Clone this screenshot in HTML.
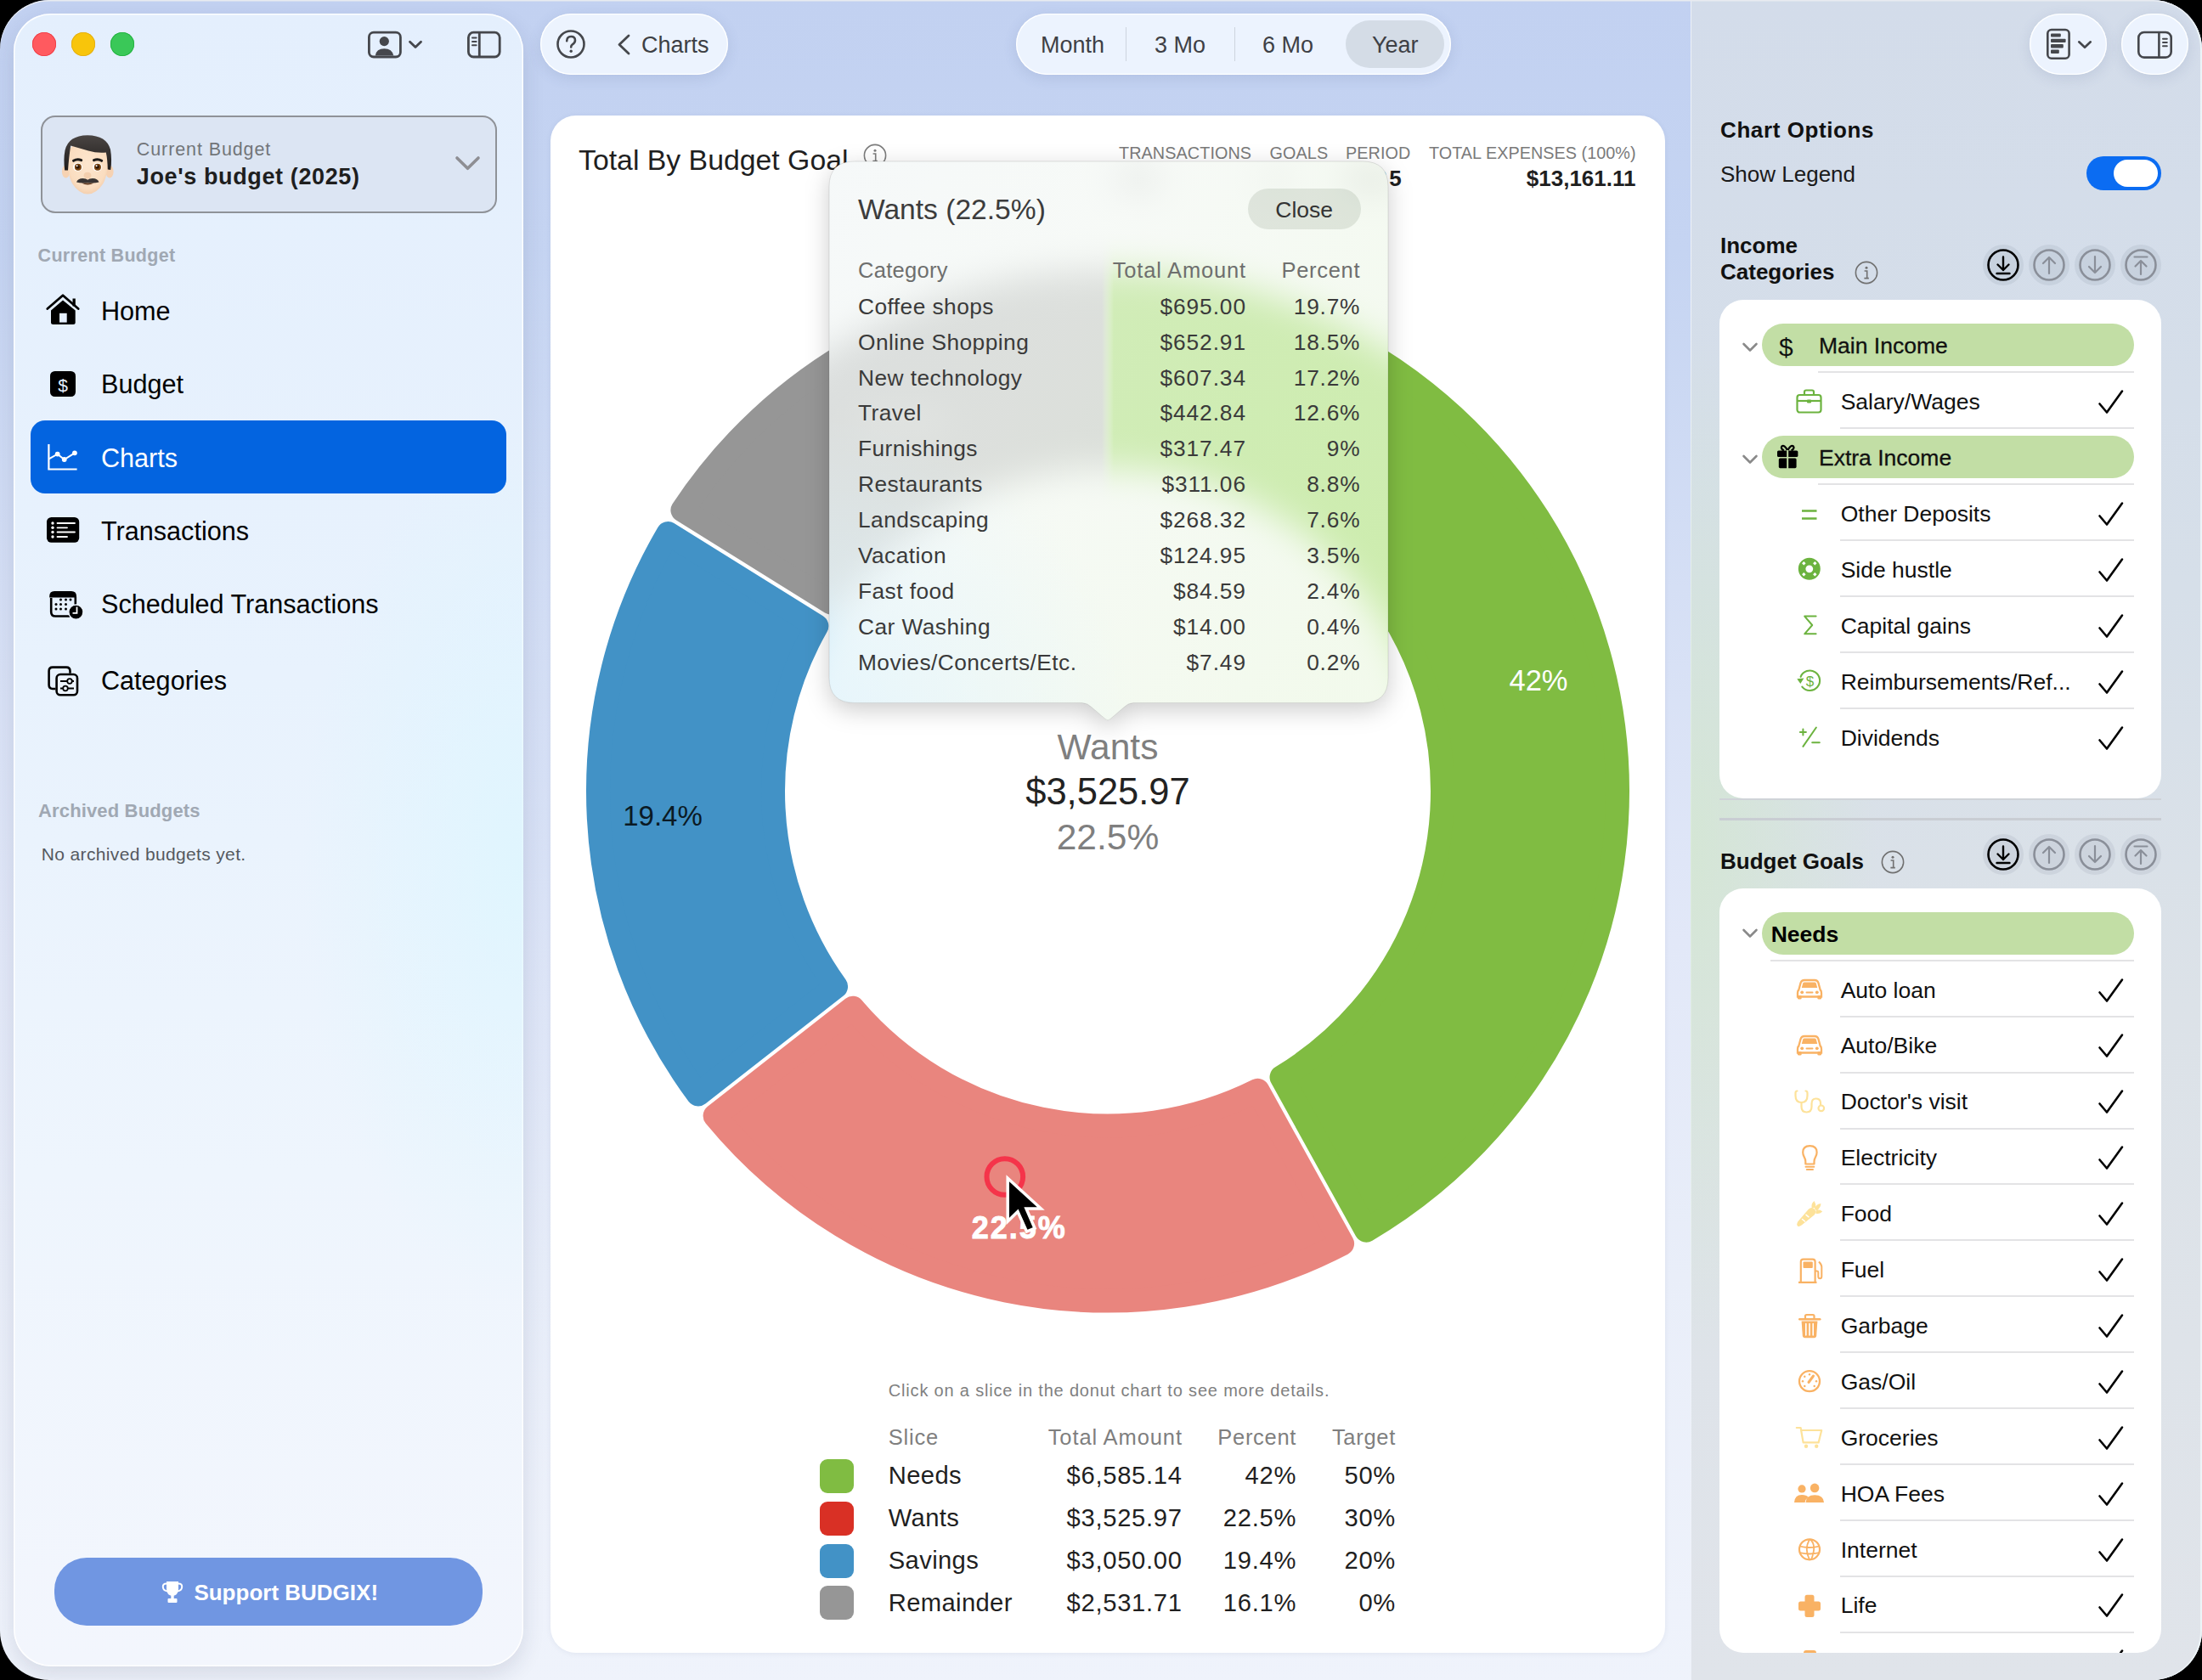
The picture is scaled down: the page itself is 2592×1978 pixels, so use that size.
<!DOCTYPE html>
<html><head><meta charset="utf-8"><style>
html,body{margin:0;padding:0;}
body{width:2592px;height:1978px;overflow:hidden;background:#000;position:relative;font-family:"Liberation Sans", sans-serif;}
.t{position:absolute;line-height:1;white-space:nowrap;}
svg{position:absolute;overflow:visible;}
</style></head><body>

<div id="win" style="position:absolute;left:0px;top:0px;width:2592px;height:1978px;border-radius:58px;overflow:hidden;background:radial-gradient(ellipse 420px 760px at 632px 1000px, rgba(170,195,235,0.14), rgba(170,195,235,0)),linear-gradient(180deg,#C2D1F1 0%,#C5D4F2 15%,#D5DFF5 35%,#E2E8F8 56%,#E9EEF9 76%,#EEF2FB 96%,#EFF3FB 100%);">
<div style="position:absolute;left:1990px;top:0;width:602px;height:1978px;background:linear-gradient(180deg,#D3DCEA 0%,#D6DFE9 35%,#DCE2E8 60%,#E0E4EA 100%);border-left:1.5px solid #EDF1F8;"></div>
<div style="position:absolute;left:1990px;top:0;width:602px;height:1978px;background:radial-gradient(ellipse 220px 600px at 0px 1000px, rgba(210,232,205,0.7), rgba(210,232,205,0));"></div>
<div style="position:absolute;left:0;top:0;right:0;bottom:0;border-radius:58px;box-shadow:inset 0 1.6px 0 rgba(232,235,240,1), inset -2px 0 0 rgba(236,244,248,0.95);"></div>
</div>
<div style="position:absolute;left:16px;top:16px;width:600px;height:1946px;border-radius:44px;background:linear-gradient(180deg,#E4EFFD 0%,#E8F2FD 40%,#EEF5FD 70%,#F3F6FD 100%);box-shadow:inset 0 0 0 1.5px rgba(255,255,255,0.9), 0 10px 26px rgba(30,40,70,0.12);"></div>
<div style="position:absolute;left:16px;top:16px;width:600px;height:1946px;border-radius:44px;background:radial-gradient(ellipse 260px 520px at 600px 1000px, rgba(220,246,255,0.75), rgba(220,246,255,0));"></div>
<div style="position:absolute;left:38px;top:38px;width:28px;height:28px;border-radius:50%;background:#FF5A5F;box-shadow:inset 0 0 0 0.8px #EE3A43;"></div>
<div style="position:absolute;left:84px;top:38px;width:28px;height:28px;border-radius:50%;background:#F8C50B;box-shadow:inset 0 0 0 0.8px #E2AC10;"></div>
<div style="position:absolute;left:130px;top:38px;width:28px;height:28px;border-radius:50%;background:#3AC858;box-shadow:inset 0 0 0 0.8px #1FAF3C;"></div>
<svg style="left:430px;top:34px;" width="70" height="36" viewBox="0 0 70 36"><rect x="4.4" y="4.2" width="37" height="28.8" rx="5.5" fill="none" stroke="#45474C" stroke-width="2.8"/>
<circle cx="22.3" cy="14.6" r="5.6" fill="#45474C"/>
<path d="M11.7 31.5 Q13 23.2 22.3 23.2 Q31.6 23.2 33.3 31.5 Z" fill="#45474C"/>
<path d="M52.5 15.2 L59 21.6 L65.5 15.2" fill="none" stroke="#45474C" stroke-width="2.8" stroke-linecap="round" stroke-linejoin="round"/></svg>
<svg style="left:548px;top:34px;" width="44" height="36" viewBox="0 0 44 36"><rect x="3.4" y="4.2" width="36.8" height="28.8" rx="6" fill="none" stroke="#45474C" stroke-width="2.8"/>
<line x1="16.3" y1="4.2" x2="16.3" y2="33" stroke="#45474C" stroke-width="2.8"/>
<path d="M8 10.4h4.6M8 14.9h4.6M8 19.3h4.6" stroke="#45474C" stroke-width="2" stroke-linecap="round"/></svg>
<div style="position:absolute;left:47.5px;top:135.5px;width:537px;height:115px;box-sizing:border-box;border:2px solid #8F9298;border-radius:17px;background:#DCE5F3;"></div>
<svg style="left:66px;top:150px;" width="74" height="86" viewBox="0 0 74 86"><defs><radialGradient id="skin" cx="0.5" cy="0.45" r="0.6"><stop offset="0" stop-color="#FDE6CE"/><stop offset="0.75" stop-color="#FADDC0"/><stop offset="1" stop-color="#F1C9A6"/></radialGradient>
<linearGradient id="hair" x1="0" y1="0" x2="0" y2="1"><stop offset="0" stop-color="#4A4543"/><stop offset="1" stop-color="#1F1C1B"/></linearGradient></defs>
<ellipse cx="11.5" cy="52" rx="4.6" ry="7.5" fill="#F6D2B2"/><ellipse cx="63" cy="52" rx="4.6" ry="7.5" fill="#F6D2B2"/>
<path d="M13.5 30 Q12.5 54 19 66 Q27 78.5 37.2 78.5 Q47.5 78.5 55.5 66 Q62 54 61 30 Q52 14 37 14 Q22 14 13.5 30Z" fill="url(#skin)"/>
<path d="M10.2 50.5 Q8.5 38 10.5 27 Q14.5 9.5 37 9.2 Q59.5 9.5 64 26 Q66 38 64.2 50 L60.8 49.5 Q60.5 37 58.8 29.5 Q48 30.5 38 27.5 Q26 24 17.2 21.5 Q15.2 34 14 50.5Z" fill="url(#hair)"/>
<path d="M20.5 39.3 Q25 36.4 29.7 38.6 M44.5 38.6 Q49.2 36.4 53.7 39.3" fill="none" stroke="#1C1A19" stroke-width="3" stroke-linecap="round"/>
<ellipse cx="25.6" cy="46.8" rx="5.6" ry="5" fill="#fff"/><circle cx="25.9" cy="46.8" r="4" fill="#7A4410"/><circle cx="25.6" cy="46.4" r="2.2" fill="#2A1406"/><circle cx="24.6" cy="45.2" r="1" fill="#fff"/>
<ellipse cx="48.6" cy="46.8" rx="5.6" ry="5" fill="#fff"/><circle cx="48.9" cy="46.8" r="4" fill="#7A4410"/><circle cx="48.6" cy="46.4" r="2.2" fill="#2A1406"/><circle cx="47.6" cy="45.2" r="1" fill="#fff"/>
<ellipse cx="37" cy="56.5" rx="4.4" ry="3.8" fill="#F3CFAE"/>
<path d="M30 65.5 Q37.2 69.5 44.5 65.5Z" fill="#5C3318"/>
<path d="M24 64.5 Q25.5 60 31.5 60 Q35.5 60 37.2 61.8 Q39 60 43 60 Q49 60 50.5 64.5 Q45.5 65.8 37.2 65.2 Q29 65.8 24 64.5Z" fill="#3A3533"/></svg>
<div class="t" style="top:165.80px;font-size:21.5px;font-weight:400;color:#727579;letter-spacing:0.9px;left:160.8px;">Current Budget</div>
<div class="t" style="top:194.94px;font-size:27px;font-weight:700;color:#1E1E1E;letter-spacing:0.62px;left:160.8px;">Joe's budget (2025)</div>
<svg style="left:534px;top:182px;" width="34" height="22" viewBox="0 0 34 22"><path d="M4 4 L16.5 16.3 L29 4" fill="none" stroke="#8E8E93" stroke-width="3.6" stroke-linecap="round" stroke-linejoin="round"/></svg>
<div class="t" style="top:291.30px;font-size:21.5px;font-weight:700;color:#A0A8B3;letter-spacing:0.3px;left:44.6px;">Current Budget</div>
<div style="position:absolute;left:36px;top:495px;width:560px;height:86px;border-radius:17px;background:#0364E0;"></div>
<div class="t" style="top:350.70px;font-size:30.6px;font-weight:400;color:#000;left:119px;">Home</div>
<div class="t" style="top:437.40px;font-size:30.6px;font-weight:400;color:#000;left:119px;">Budget</div>
<div class="t" style="top:523.70px;font-size:30.6px;font-weight:400;color:#fff;left:119px;">Charts</div>
<div class="t" style="top:609.80px;font-size:30.6px;font-weight:400;color:#000;left:119px;">Transactions</div>
<div class="t" style="top:695.80px;font-size:30.6px;font-weight:400;color:#000;left:119px;">Scheduled Transactions</div>
<div class="t" style="top:786.10px;font-size:30.6px;font-weight:400;color:#000;left:119px;">Categories</div>
<svg style="left:52px;top:344px;" width="44" height="42" viewBox="0 0 44 42"><path d="M3.8 19.5 L22 3.8 L40.2 19.5" fill="none" stroke="#000" stroke-width="2.8" stroke-linecap="round" stroke-linejoin="round"/>
<rect x="33.5" y="7.5" width="3.3" height="9" fill="#000"/>
<path d="M8 21.5 L22 9.5 L36.7 21.5 V35.5 Q36.7 38 34.2 38 H10.5 Q8 38 8 35.5Z" fill="#000"/>
<rect x="18" y="24.8" width="8.7" height="10.8" fill="#E5EFFD"/></svg>
<svg style="left:56px;top:434px;" width="36" height="36" viewBox="0 0 36 36"><rect x="3" y="3" width="30" height="30" rx="5.5" fill="#000"/>
<text x="18" y="26.5" font-family="Liberation Sans" font-size="21" fill="#E5EFFD" text-anchor="middle">$</text></svg>
<svg style="left:52px;top:518px;" width="44" height="40" viewBox="0 0 44 40"><path d="M5.4 5 V34.5 H38.6" fill="none" stroke="#fff" stroke-width="2.2"/>
<path d="M5.5 22.4 L15.7 16.6 L23.7 23 L35.9 15.3" fill="none" stroke="#fff" stroke-width="2"/>
<circle cx="15.7" cy="16.6" r="2.9" fill="#fff"/><circle cx="23.7" cy="23" r="2.9" fill="#fff"/><circle cx="35.9" cy="15.3" r="2.9" fill="#fff"/></svg>
<svg style="left:52px;top:606px;" width="44" height="36" viewBox="0 0 44 36"><rect x="3" y="3" width="38.2" height="29.8" rx="5.5" fill="#000"/>
<g fill="#fff"><circle cx="10" cy="10" r="1.7"/><circle cx="10" cy="15.3" r="1.7"/><circle cx="10" cy="20.5" r="1.7"/><circle cx="10" cy="26" r="1.7"/></g>
<g stroke="#fff" stroke-width="1.8" stroke-linecap="round"><path d="M15.5 10H36M15.5 15.3H27M15.5 20.5H36M15.5 26H27"/></g></svg>
<svg style="left:54px;top:692px;" width="46" height="42" viewBox="0 0 46 42"><path d="M6.2 12 V28.5 Q6.2 33.5 11.2 33.5 H28" fill="none" stroke="#000" stroke-width="2.6"/>
<path d="M4.2 10 Q4.2 4 10 4 H30 Q36 4 36 10 V11.5 H4.2Z" fill="#000"/>
<path d="M34.8 11 V20" stroke="#000" stroke-width="2.6"/>
<g fill="#000"><circle cx="17.5" cy="14" r="1.5"/><circle cx="23.5" cy="14" r="1.5"/><circle cx="29" cy="14" r="1.5"/>
<circle cx="12" cy="19.5" r="1.5"/><circle cx="17.5" cy="19.5" r="1.5"/><circle cx="23.5" cy="19.5" r="1.5"/>
<circle cx="12" cy="25" r="1.5"/><circle cx="17.5" cy="25" r="1.5"/><circle cx="23.5" cy="25" r="1.5"/></g>
<circle cx="35.4" cy="28.6" r="8.6" fill="#000" stroke="#EDF4FD" stroke-width="1.5"/>
<path d="M36.5 22.5 V29.8 H31.5" fill="none" stroke="#fff" stroke-width="1.8"/></svg>
<svg style="left:52px;top:782px;" width="44" height="40" viewBox="0 0 44 40"><path d="M30.5 10.7 V8 Q30.5 3.6 26 3.6 H10 Q5.6 3.6 5.6 8 V24.6 Q5.6 29 10 29 H13.4" fill="none" stroke="#000" stroke-width="2.6"/>
<rect x="14.6" y="12" width="24.4" height="24.3" rx="4.5" fill="#EDF4FD" stroke="#000" stroke-width="2.6"/>
<path d="M19 20H35M19 28.5H35" stroke="#000" stroke-width="1.8"/>
<circle cx="30" cy="20" r="2.8" fill="#EDF4FD" stroke="#000" stroke-width="1.8"/>
<circle cx="25" cy="28.5" r="2.8" fill="#EDF4FD" stroke="#000" stroke-width="1.8"/></svg>
<div class="t" style="top:943.88px;font-size:22px;font-weight:700;color:#A0A8B3;letter-spacing:0.15px;left:45px;">Archived Budgets</div>
<div class="t" style="top:995.02px;font-size:21px;font-weight:400;color:#55595F;letter-spacing:0.35px;left:48.8px;">No archived budgets yet.</div>
<div style="position:absolute;left:64px;top:1834px;width:503.5px;height:79.5px;border-radius:38px;background:#7096E2;"></div>
<div class="t" style="top:1862.29px;font-size:26px;font-weight:700;color:#fff;left:228.4px;">Support BUDGIX!</div>
<svg style="left:188px;top:1858px;" width="30" height="32" viewBox="0 0 30 32"><path d="M8 4 H22 V13 Q22 20 15 21 Q8 20 8 13Z" fill="#fff"/>
<path d="M8 6.5 Q3.5 6.5 3.8 10.5 Q4.2 15 9.5 15.5 M22 6.5 Q26.5 6.5 26.2 10.5 Q25.8 15 20.5 15.5" fill="none" stroke="#fff" stroke-width="2"/>
<rect x="13.3" y="20" width="3.4" height="4.5" fill="#fff"/><rect x="9.5" y="24" width="11" height="5" rx="1" fill="#fff"/></svg>
<div style="position:absolute;left:636px;top:16px;width:221px;height:71.5px;border-radius:36px;background:#ECF3FE;box-shadow:inset 0 0 0 1.3px rgba(255,255,255,0.95), 0 4px 16px rgba(70,90,140,0.14);"></div>
<svg style="left:652px;top:32px;" width="42" height="42" viewBox="0 0 42 42"><circle cx="20" cy="20" r="15.5" fill="none" stroke="#45474C" stroke-width="2.6"/>
<path d="M15.2 16.3 Q15.2 11 20.2 11 Q25 11 25 15.6 Q25 18.5 21.8 20.3 Q20.2 21.3 20.2 23.5" fill="none" stroke="#45474C" stroke-width="2.6" stroke-linecap="round"/>
<circle cx="20.2" cy="28.3" r="1.7" fill="#45474C"/></svg>
<svg style="left:724px;top:38px;" width="22" height="30" viewBox="0 0 22 30"><path d="M16 4 L5 14.5 L16 25" fill="none" stroke="#45474C" stroke-width="2.8" stroke-linecap="round" stroke-linejoin="round"/></svg>
<div class="t" style="top:39.54px;font-size:27px;font-weight:400;color:#3D3F44;left:755px;">Charts</div>
<div style="position:absolute;left:1196px;top:16px;width:512px;height:71.5px;border-radius:36px;background:#ECF3FE;box-shadow:inset 0 0 0 1.3px rgba(255,255,255,0.95), 0 4px 16px rgba(70,90,140,0.14);"></div>
<div style="position:absolute;left:1584px;top:24px;width:116px;height:56px;border-radius:28px;background:#D4DCE6;"></div>
<div style="position:absolute;left:1324.5px;top:32px;width:1.5px;height:40px;background:#CDD4DE;"></div>
<div style="position:absolute;left:1452.5px;top:32px;width:1.5px;height:40px;background:#CDD4DE;"></div>
<div class="t" style="top:39.64px;font-size:27px;font-weight:400;color:#3E4045;left:1225px;">Month</div>
<div class="t" style="top:39.64px;font-size:27px;font-weight:400;color:#3E4045;left:1359px;">3 Mo</div>
<div class="t" style="top:39.64px;font-size:27px;font-weight:400;color:#3E4045;left:1486px;">6 Mo</div>
<div class="t" style="top:39.64px;font-size:27px;font-weight:400;color:#3E4045;left:1615px;">Year</div>
<div style="position:absolute;left:2389px;top:16px;width:91px;height:72px;border-radius:36px;background:#ECF3FE;box-shadow:inset 0 0 0 1.3px rgba(255,255,255,0.95), 0 4px 16px rgba(70,90,140,0.14);"></div>
<div style="position:absolute;left:2497px;top:16px;width:79px;height:72px;border-radius:36px;background:#ECF3FE;box-shadow:inset 0 0 0 1.3px rgba(255,255,255,0.95), 0 4px 16px rgba(70,90,140,0.14);"></div>
<svg style="left:2404px;top:30px;" width="64" height="44" viewBox="0 0 64 44"><rect x="6.3" y="5" width="25.3" height="33.7" rx="4.5" fill="none" stroke="#45474C" stroke-width="2.6"/>
<g fill="#45474C"><rect x="10" y="9.4" width="11.8" height="4.2" rx="1"/><rect x="10" y="15.8" width="17.6" height="4.2" rx="1"/>
<rect x="10" y="22" width="14.8" height="4.6" rx="1"/><rect x="10" y="28.6" width="9.8" height="4.4" rx="1"/></g>
<path d="M43.2 19.3 L50 25.8 L56.8 19.3" fill="none" stroke="#45474C" stroke-width="2.6" stroke-linecap="round" stroke-linejoin="round"/></svg>
<svg style="left:2514px;top:34px;" width="46" height="36" viewBox="0 0 46 36"><rect x="3.3" y="4" width="38.4" height="29.6" rx="6.5" fill="none" stroke="#45474C" stroke-width="2.6"/>
<line x1="27.4" y1="4" x2="27.4" y2="33.6" stroke="#45474C" stroke-width="2.6"/>
<path d="M32 11.8h4.8M32 16h4.8M32 20.2h4.8" stroke="#45474C" stroke-width="2" stroke-linecap="round"/></svg>
<div style="position:absolute;left:648px;top:136px;width:1312px;height:1810px;border-radius:30px;background:#fff;box-shadow:0 1px 6px rgba(60,80,120,0.08);"></div>
<div class="t" style="top:171.69px;font-size:33.8px;font-weight:400;color:#1F1F1F;left:681px;">Total By Budget Goal</div>
<svg style="left:1014px;top:167px;" width="32" height="32" viewBox="0 0 32 32"><circle cx="16" cy="16" r="12.6" fill="none" stroke="#7B7B7B" stroke-width="1.6"/>
<circle cx="16" cy="10.2" r="1.5" fill="#7B7B7B"/><path d="M13.6 14h3.1v8.5M13.4 22.6h5.4" fill="none" stroke="#7B7B7B" stroke-width="1.6"/></svg>
<div class="t" style="top:170.94px;font-size:19.8px;font-weight:400;color:#7A7A7A;letter-spacing:0.1px;left:1317px;">TRANSACTIONS</div>
<div class="t" style="top:170.94px;font-size:19.8px;font-weight:400;color:#7A7A7A;letter-spacing:0.1px;left:1494.6px;">GOALS</div>
<div class="t" style="top:170.94px;font-size:19.8px;font-weight:400;color:#7A7A7A;letter-spacing:0.1px;left:1584px;">PERIOD</div>
<div class="t" style="top:170.94px;font-size:19.8px;font-weight:400;color:#7A7A7A;letter-spacing:0.05px;left:-1074.45px;width:3000px;text-align:right;">TOTAL EXPENSES (100%)</div>
<div class="t" style="top:197.49px;font-size:26px;font-weight:700;color:#1F1F1F;letter-spacing:1.5px;left:1317px;">130</div>
<div class="t" style="top:197.49px;font-size:26px;font-weight:700;color:#1F1F1F;letter-spacing:1.5px;left:1494.6px;">4</div>
<div class="t" style="top:197.49px;font-size:26px;font-weight:700;color:#1F1F1F;letter-spacing:2.6px;left:1584px;">2025</div>
<div class="t" style="top:197.49px;font-size:26px;font-weight:700;color:#1F1F1F;left:-1074.5px;width:3000px;text-align:right;">$13,161.11</div>
<svg style="left:0;top:0" width="2592" height="1978" viewBox="0 0 2592 1978"><path d="M1320.10 331.72 A600 600 0 0 1 1608.27 1448.63 L1508.55 1268.24 A394 394 0 0 0 1320.10 537.83 Z" fill="#80BC42" stroke="#80BC42" stroke-width="28" stroke-linejoin="round"/><path d="M1580.09 1464.21 A600 600 0 0 1 841.59 1313.83 L1003.90 1186.80 A394 394 0 0 0 1480.37 1283.82 Z" fill="#E9857E" stroke="#E9857E" stroke-width="28" stroke-linejoin="round"/><path d="M821.74 1288.47 A600 600 0 0 1 786.41 628.03 L961.35 737.01 A394 394 0 0 0 984.06 1161.44 Z" fill="#4292C6" stroke="#4292C6" stroke-width="28" stroke-linejoin="round"/><path d="M803.43 600.69 A600 600 0 0 1 1287.90 331.72 L1287.90 537.83 A394 394 0 0 0 978.38 709.68 Z" fill="#969696" stroke="#969696" stroke-width="28" stroke-linejoin="round"/></svg>
<div class="t" style="top:783.70px;font-size:34.5px;font-weight:400;color:#fff;left:311.0px;width:3000px;text-align:center;">42%</div>
<div class="t" style="top:943.87px;font-size:33px;font-weight:400;color:#0B1A24;left:-720.0px;width:3000px;text-align:center;">19.4%</div>
<div class="t" style="top:480.07px;font-size:33px;font-weight:400;color:#fff;left:-437.0px;width:3000px;text-align:center;">16.1%</div>
<div class="t" style="top:1427.53px;font-size:36px;font-weight:700;color:#fff;letter-spacing:2.0px;left:-300.20000000000005px;width:3000px;text-align:center;-webkit-text-stroke:0.9px #fff;">22.5%</div>
<div class="t" style="top:859.02px;font-size:42.5px;font-weight:400;color:#7F7F7F;left:-196.0px;width:3000px;text-align:center;">Wants</div>
<div class="t" style="top:911.18px;font-size:43.5px;font-weight:400;color:#222222;left:-196.0px;width:3000px;text-align:center;">$3,525.97</div>
<div class="t" style="top:964.82px;font-size:42.5px;font-weight:400;color:#7F7F7F;left:-196.0px;width:3000px;text-align:center;">22.5%</div>
<svg style="left:1151.5px;top:1352.5px;" width="100" height="100" viewBox="0 0 100 100"><circle cx="30.8" cy="32.5" r="21.3" fill="none" stroke="#F5344A" stroke-width="6"/>
<path d="M34.2 34.2 V85 L46 73.5 L56.5 97 L66 93 L56 70 H73.3 Z" fill="#000" stroke="#fff" stroke-width="3.5" stroke-linejoin="miter"/></svg>
<div class="t" style="top:1626.77px;font-size:20px;font-weight:400;color:#808080;letter-spacing:0.82px;left:1045.8px;">Click on a slice in the donut chart to see more details.</div>
<div class="t" style="top:1679.91px;font-size:25.5px;font-weight:400;color:#7F7F7F;letter-spacing:0.8px;left:1045.8px;">Slice</div>
<div class="t" style="top:1679.91px;font-size:25.5px;font-weight:400;color:#7F7F7F;letter-spacing:0.9px;left:-1608.1px;width:3000px;text-align:right;">Total Amount</div>
<div class="t" style="top:1679.91px;font-size:25.5px;font-weight:400;color:#7F7F7F;letter-spacing:0.7px;left:-1473.8999999999999px;width:3000px;text-align:right;">Percent</div>
<div class="t" style="top:1679.91px;font-size:25.5px;font-weight:400;color:#7F7F7F;letter-spacing:0.7px;left:-1357.0px;width:3000px;text-align:right;">Target</div>
<div style="position:absolute;left:965px;top:1718.0px;width:40px;height:40px;border-radius:9px;background:#80BC42;"></div>
<div class="t" style="top:1723.18px;font-size:29.2px;font-weight:400;color:#1F1F1F;letter-spacing:0.35px;left:1045.8px;">Needs</div>
<div class="t" style="top:1723.18px;font-size:29.2px;font-weight:400;color:#1F1F1F;letter-spacing:0.7px;left:-1608.3px;width:3000px;text-align:right;">$6,585.14</div>
<div class="t" style="top:1723.18px;font-size:29.2px;font-weight:400;color:#1F1F1F;letter-spacing:0.7px;left:-1473.8999999999999px;width:3000px;text-align:right;">42%</div>
<div class="t" style="top:1723.18px;font-size:29.2px;font-weight:400;color:#1F1F1F;letter-spacing:0.7px;left:-1357.0px;width:3000px;text-align:right;">50%</div>
<div style="position:absolute;left:965px;top:1767.83px;width:40px;height:40px;border-radius:9px;background:#D93025;"></div>
<div class="t" style="top:1773.01px;font-size:29.2px;font-weight:400;color:#1F1F1F;letter-spacing:0.35px;left:1045.8px;">Wants</div>
<div class="t" style="top:1773.01px;font-size:29.2px;font-weight:400;color:#1F1F1F;letter-spacing:0.7px;left:-1608.3px;width:3000px;text-align:right;">$3,525.97</div>
<div class="t" style="top:1773.01px;font-size:29.2px;font-weight:400;color:#1F1F1F;letter-spacing:0.7px;left:-1473.8999999999999px;width:3000px;text-align:right;">22.5%</div>
<div class="t" style="top:1773.01px;font-size:29.2px;font-weight:400;color:#1F1F1F;letter-spacing:0.7px;left:-1357.0px;width:3000px;text-align:right;">30%</div>
<div style="position:absolute;left:965px;top:1817.66px;width:40px;height:40px;border-radius:9px;background:#4292C6;"></div>
<div class="t" style="top:1822.84px;font-size:29.2px;font-weight:400;color:#1F1F1F;letter-spacing:0.35px;left:1045.8px;">Savings</div>
<div class="t" style="top:1822.84px;font-size:29.2px;font-weight:400;color:#1F1F1F;letter-spacing:0.7px;left:-1608.3px;width:3000px;text-align:right;">$3,050.00</div>
<div class="t" style="top:1822.84px;font-size:29.2px;font-weight:400;color:#1F1F1F;letter-spacing:0.7px;left:-1473.8999999999999px;width:3000px;text-align:right;">19.4%</div>
<div class="t" style="top:1822.84px;font-size:29.2px;font-weight:400;color:#1F1F1F;letter-spacing:0.7px;left:-1357.0px;width:3000px;text-align:right;">20%</div>
<div style="position:absolute;left:965px;top:1867.49px;width:40px;height:40px;border-radius:9px;background:#969696;"></div>
<div class="t" style="top:1872.67px;font-size:29.2px;font-weight:400;color:#1F1F1F;letter-spacing:0.35px;left:1045.8px;">Remainder</div>
<div class="t" style="top:1872.67px;font-size:29.2px;font-weight:400;color:#1F1F1F;letter-spacing:0.7px;left:-1608.3px;width:3000px;text-align:right;">$2,531.71</div>
<div class="t" style="top:1872.67px;font-size:29.2px;font-weight:400;color:#1F1F1F;letter-spacing:0.7px;left:-1473.8999999999999px;width:3000px;text-align:right;">16.1%</div>
<div class="t" style="top:1872.67px;font-size:29.2px;font-weight:400;color:#1F1F1F;letter-spacing:0.7px;left:-1357.0px;width:3000px;text-align:right;">0%</div>
<svg style="left:0;top:0" width="2592" height="1978"><defs><filter id="sh" x="-20%" y="-20%" width="140%" height="140%"><feGaussianBlur stdDeviation="14"/></filter><filter id="bb" x="-10%" y="-10%" width="120%" height="120%" color-interpolation-filters="sRGB"><feGaussianBlur stdDeviation="21"/><feColorMatrix type="saturate" values="1.6"/></filter><clipPath id="pc"><path d="M1006 190 H1604 Q1634 190 1634 220 V797.5 Q1634 827.5 1604 827.5 H1334 Q1328 827.5 1322 833.5 L1307 846.5 Q1304 849.5 1301 846.5 L1286 833.5 Q1280 827.5 1274 827.5 H1006 Q976 827.5 976 797.5 V220 Q976 190 1006 190 Z"/></clipPath><linearGradient id="pg" x1="0" y1="0" x2="1" y2="0.6"><stop offset="0" stop-color="#F2F6F8"/><stop offset="0.45" stop-color="#F4F8F4"/><stop offset="1" stop-color="#EEF8E6"/></linearGradient><radialGradient id="pb" cx="0.05" cy="0.95" r="0.5"><stop offset="0" stop-color="#DDF3FF" stop-opacity="0.7"/><stop offset="1" stop-color="#DDF3FF" stop-opacity="0"/></radialGradient></defs><path d="M1006 198 H1604 Q1634 198 1634 228 V805.5 Q1634 835.5 1604 835.5 H1334 Q1328 835.5 1322 841.5 L1307 854.5 Q1304 857.5 1301 854.5 L1286 841.5 Q1280 835.5 1274 835.5 H1006 Q976 835.5 976 805.5 V228 Q976 198 1006 198 Z" fill="rgba(0,0,0,0.20)" filter="url(#sh)"/><g clip-path="url(#pc)"><rect x="900" y="150" width="800" height="750" fill="#fff"/><linearGradient id="mg" gradientUnits="userSpaceOnUse" x1="1297" y1="0" x2="1311" y2="0"><stop offset="0" stop-color="#fff"/><stop offset="1" stop-color="#000"/></linearGradient><linearGradient id="mg2" gradientUnits="userSpaceOnUse" x1="1297" y1="0" x2="1311" y2="0"><stop offset="0" stop-color="#000"/><stop offset="1" stop-color="#fff"/></linearGradient><mask id="lh" maskUnits="userSpaceOnUse" x="0" y="0" width="2592" height="1978"><rect x="900" y="100" width="800" height="800" fill="url(#mg)"/></mask><mask id="rh" maskUnits="userSpaceOnUse" x="0" y="0" width="2592" height="1978"><rect x="900" y="100" width="800" height="800" fill="url(#mg2)"/></mask><g mask="url(#lh)"><g filter="url(#bb)"><path d="M821.74 1288.47 A600 600 0 0 1 786.41 628.03 L961.35 737.01 A394 394 0 0 0 984.06 1161.44 Z" fill="#4292C6" stroke="#4292C6" stroke-width="28" stroke-linejoin="round"/><path d="M803.43 600.69 A600 600 0 0 1 1494.01 362.38 L1423.51 556.06 A394 394 0 0 0 978.38 709.68 Z" fill="#969696" stroke="#969696" stroke-width="28" stroke-linejoin="round"/><text x="1317" y="219.5" font-family="Liberation Sans" font-weight="700" font-size="26" fill="#1F1F1F">130</text><text x="1494.6" y="219.5" font-family="Liberation Sans" font-weight="700" font-size="26" fill="#1F1F1F">4</text><text x="1584" y="219.5" font-family="Liberation Sans" font-weight="700" font-size="26" fill="#1F1F1F">2025</text><text x="1063" y="508" font-family="Liberation Sans" font-size="33" fill="#fff" text-anchor="middle">16.1%</text></g></g><g mask="url(#rh)"><g filter="url(#bb)"><path d="M1113.99 362.38 A600 600 0 0 1 1608.27 1448.63 L1508.55 1268.24 A394 394 0 0 0 1184.49 556.06 Z" fill="#80BC42" stroke="#80BC42" stroke-width="28" stroke-linejoin="round"/><path d="M1580.09 1464.21 A600 600 0 0 1 841.59 1313.83 L1003.90 1186.80 A394 394 0 0 0 1480.37 1283.82 Z" fill="#E9857E" stroke="#E9857E" stroke-width="28" stroke-linejoin="round"/><text x="1317" y="219.5" font-family="Liberation Sans" font-weight="700" font-size="26" fill="#1F1F1F">130</text><text x="1494.6" y="219.5" font-family="Liberation Sans" font-weight="700" font-size="26" fill="#1F1F1F">4</text><text x="1584" y="219.5" font-family="Liberation Sans" font-weight="700" font-size="26" fill="#1F1F1F">2025</text><text x="1063" y="508" font-family="Liberation Sans" font-size="33" fill="#fff" text-anchor="middle">16.1%</text></g></g><rect x="900" y="150" width="800" height="750" fill="url(#pg)" opacity="0.75"/><rect x="900" y="150" width="800" height="750" fill="url(#pb)"/></g><path d="M1006 190 H1604 Q1634 190 1634 220 V797.5 Q1634 827.5 1604 827.5 H1334 Q1328 827.5 1322 833.5 L1307 846.5 Q1304 849.5 1301 846.5 L1286 833.5 Q1280 827.5 1274 827.5 H1006 Q976 827.5 976 797.5 V220 Q976 190 1006 190 Z" fill="none" stroke="rgba(0,0,0,0.10)" stroke-width="1"/></svg>
<div class="t" style="top:229.56px;font-size:33.6px;font-weight:400;color:#3C3C3C;left:1010px;">Wants (22.5%)</div>
<div style="position:absolute;left:1468.5px;top:222px;width:133.5px;height:47.5px;border-radius:24px;background:rgba(70,90,60,0.13);"></div>
<div class="t" style="top:233.57px;font-size:26.5px;font-weight:400;color:#333;left:35.200000000000045px;width:3000px;text-align:center;">Close</div>
<div class="t" style="top:306.21px;font-size:25.5px;font-weight:400;color:#6E6F6E;letter-spacing:0.3px;left:1010px;">Category</div>
<div class="t" style="top:306.21px;font-size:25.5px;font-weight:400;color:#6E6F6E;letter-spacing:0.8px;left:-1533.2px;width:3000px;text-align:right;">Total Amount</div>
<div class="t" style="top:306.21px;font-size:25.5px;font-weight:400;color:#6E6F6E;letter-spacing:0.7px;left:-1398.8px;width:3000px;text-align:right;">Percent</div>
<div class="t" style="top:347.74px;font-size:26.3px;font-weight:400;color:#3A3A3A;letter-spacing:0.45px;left:1010px;">Coffee shops</div>
<div class="t" style="top:347.74px;font-size:26.3px;font-weight:400;color:#3A3A3A;letter-spacing:0.9px;left:-1533.1px;width:3000px;text-align:right;">$695.00</div>
<div class="t" style="top:347.74px;font-size:26.3px;font-weight:400;color:#3A3A3A;letter-spacing:0.8px;left:-1398.7px;width:3000px;text-align:right;">19.7%</div>
<div class="t" style="top:389.64px;font-size:26.3px;font-weight:400;color:#3A3A3A;letter-spacing:0.45px;left:1010px;">Online Shopping</div>
<div class="t" style="top:389.64px;font-size:26.3px;font-weight:400;color:#3A3A3A;letter-spacing:0.9px;left:-1533.1px;width:3000px;text-align:right;">$652.91</div>
<div class="t" style="top:389.64px;font-size:26.3px;font-weight:400;color:#3A3A3A;letter-spacing:0.8px;left:-1398.7px;width:3000px;text-align:right;">18.5%</div>
<div class="t" style="top:431.54px;font-size:26.3px;font-weight:400;color:#3A3A3A;letter-spacing:0.45px;left:1010px;">New technology</div>
<div class="t" style="top:431.54px;font-size:26.3px;font-weight:400;color:#3A3A3A;letter-spacing:0.9px;left:-1533.1px;width:3000px;text-align:right;">$607.34</div>
<div class="t" style="top:431.54px;font-size:26.3px;font-weight:400;color:#3A3A3A;letter-spacing:0.8px;left:-1398.7px;width:3000px;text-align:right;">17.2%</div>
<div class="t" style="top:473.44px;font-size:26.3px;font-weight:400;color:#3A3A3A;letter-spacing:0.45px;left:1010px;">Travel</div>
<div class="t" style="top:473.44px;font-size:26.3px;font-weight:400;color:#3A3A3A;letter-spacing:0.9px;left:-1533.1px;width:3000px;text-align:right;">$442.84</div>
<div class="t" style="top:473.44px;font-size:26.3px;font-weight:400;color:#3A3A3A;letter-spacing:0.8px;left:-1398.7px;width:3000px;text-align:right;">12.6%</div>
<div class="t" style="top:515.34px;font-size:26.3px;font-weight:400;color:#3A3A3A;letter-spacing:0.45px;left:1010px;">Furnishings</div>
<div class="t" style="top:515.34px;font-size:26.3px;font-weight:400;color:#3A3A3A;letter-spacing:0.9px;left:-1533.1px;width:3000px;text-align:right;">$317.47</div>
<div class="t" style="top:515.34px;font-size:26.3px;font-weight:400;color:#3A3A3A;letter-spacing:0.8px;left:-1398.7px;width:3000px;text-align:right;">9%</div>
<div class="t" style="top:557.24px;font-size:26.3px;font-weight:400;color:#3A3A3A;letter-spacing:0.45px;left:1010px;">Restaurants</div>
<div class="t" style="top:557.24px;font-size:26.3px;font-weight:400;color:#3A3A3A;letter-spacing:0.9px;left:-1533.1px;width:3000px;text-align:right;">$311.06</div>
<div class="t" style="top:557.24px;font-size:26.3px;font-weight:400;color:#3A3A3A;letter-spacing:0.8px;left:-1398.7px;width:3000px;text-align:right;">8.8%</div>
<div class="t" style="top:599.14px;font-size:26.3px;font-weight:400;color:#3A3A3A;letter-spacing:0.45px;left:1010px;">Landscaping</div>
<div class="t" style="top:599.14px;font-size:26.3px;font-weight:400;color:#3A3A3A;letter-spacing:0.9px;left:-1533.1px;width:3000px;text-align:right;">$268.32</div>
<div class="t" style="top:599.14px;font-size:26.3px;font-weight:400;color:#3A3A3A;letter-spacing:0.8px;left:-1398.7px;width:3000px;text-align:right;">7.6%</div>
<div class="t" style="top:641.04px;font-size:26.3px;font-weight:400;color:#3A3A3A;letter-spacing:0.45px;left:1010px;">Vacation</div>
<div class="t" style="top:641.04px;font-size:26.3px;font-weight:400;color:#3A3A3A;letter-spacing:0.9px;left:-1533.1px;width:3000px;text-align:right;">$124.95</div>
<div class="t" style="top:641.04px;font-size:26.3px;font-weight:400;color:#3A3A3A;letter-spacing:0.8px;left:-1398.7px;width:3000px;text-align:right;">3.5%</div>
<div class="t" style="top:682.94px;font-size:26.3px;font-weight:400;color:#3A3A3A;letter-spacing:0.45px;left:1010px;">Fast food</div>
<div class="t" style="top:682.94px;font-size:26.3px;font-weight:400;color:#3A3A3A;letter-spacing:0.9px;left:-1533.1px;width:3000px;text-align:right;">$84.59</div>
<div class="t" style="top:682.94px;font-size:26.3px;font-weight:400;color:#3A3A3A;letter-spacing:0.8px;left:-1398.7px;width:3000px;text-align:right;">2.4%</div>
<div class="t" style="top:724.84px;font-size:26.3px;font-weight:400;color:#3A3A3A;letter-spacing:0.45px;left:1010px;">Car Washing</div>
<div class="t" style="top:724.84px;font-size:26.3px;font-weight:400;color:#3A3A3A;letter-spacing:0.9px;left:-1533.1px;width:3000px;text-align:right;">$14.00</div>
<div class="t" style="top:724.84px;font-size:26.3px;font-weight:400;color:#3A3A3A;letter-spacing:0.8px;left:-1398.7px;width:3000px;text-align:right;">0.4%</div>
<div class="t" style="top:766.74px;font-size:26.3px;font-weight:400;color:#3A3A3A;letter-spacing:0.45px;left:1010px;">Movies/Concerts/Etc.</div>
<div class="t" style="top:766.74px;font-size:26.3px;font-weight:400;color:#3A3A3A;letter-spacing:0.9px;left:-1533.1px;width:3000px;text-align:right;">$7.49</div>
<div class="t" style="top:766.74px;font-size:26.3px;font-weight:400;color:#3A3A3A;letter-spacing:0.8px;left:-1398.7px;width:3000px;text-align:right;">0.2%</div>
<div class="t" style="top:139.99px;font-size:26px;font-weight:700;color:#111;letter-spacing:0.6px;left:2025px;">Chart Options</div>
<div class="t" style="top:191.99px;font-size:26px;font-weight:400;color:#1A1A1A;left:2025px;">Show Legend</div>
<div style="position:absolute;left:2456px;top:184px;width:88px;height:40px;border-radius:20px;background:#0B6CF2;"></div>
<div style="position:absolute;left:2488px;top:188px;width:52px;height:32px;border-radius:16px;background:#fff;"></div>
<div class="t" style="top:275.59px;font-size:26px;font-weight:700;color:#111;left:2025px;">Income</div>
<div class="t" style="top:306.99px;font-size:26px;font-weight:700;color:#111;left:2025px;">Categories</div>
<svg style="left:2181px;top:305px;" width="32" height="32" viewBox="0 0 32 32"><circle cx="16" cy="16" r="12.6" fill="none" stroke="#707070" stroke-width="1.6"/>
<circle cx="16" cy="10.2" r="1.5" fill="#707070"/><path d="M13.6 14h3.1v8.5M13.4 22.6h5.4" fill="none" stroke="#707070" stroke-width="1.6"/></svg>
<svg style="left:2333.5px;top:288px;" width="48" height="48" viewBox="0 0 48 48"><circle cx="24" cy="24" r="24" fill="rgba(80,90,110,0.09)"/><circle cx="24" cy="24" r="17.5" fill="none" stroke="#000" stroke-width="2.6"/><path d="M24 14.5 V30 M17.5 23.5 L24 30 L30.5 23.5 M16.5 34 H31.5" fill="none" stroke="#000" stroke-width="2.4" stroke-linecap="round" stroke-linejoin="round"/></svg>
<svg style="left:2387.7px;top:288px;" width="48" height="48" viewBox="0 0 48 48"><circle cx="24" cy="24" r="24" fill="rgba(80,90,110,0.09)"/><circle cx="24" cy="24" r="17.5" fill="none" stroke="#8A8F99" stroke-width="2.6"/><path d="M24 34 V15 M17 22 L24 15 L31 22" fill="none" stroke="#8A8F99" stroke-width="2.2" stroke-linecap="round" stroke-linejoin="round"/></svg>
<svg style="left:2442px;top:288px;" width="48" height="48" viewBox="0 0 48 48"><circle cx="24" cy="24" r="24" fill="rgba(80,90,110,0.09)"/><circle cx="24" cy="24" r="17.5" fill="none" stroke="#8A8F99" stroke-width="2.6"/><path d="M24 14 V33 M17 26 L24 33 L31 26" fill="none" stroke="#8A8F99" stroke-width="2.2" stroke-linecap="round" stroke-linejoin="round"/></svg>
<svg style="left:2496px;top:288px;" width="48" height="48" viewBox="0 0 48 48"><circle cx="24" cy="24" r="24" fill="rgba(80,90,110,0.09)"/><circle cx="24" cy="24" r="17.5" fill="none" stroke="#8A8F99" stroke-width="2.6"/><path d="M24 35 V19 M17.5 25.5 L24 19 L30.5 25.5 M16.5 14.5 H31.5" fill="none" stroke="#8A8F99" stroke-width="2.2" stroke-linecap="round" stroke-linejoin="round"/></svg>
<div style="position:absolute;left:2024px;top:353px;width:520px;height:587px;border-radius:28px;background:#fff;"></div>
<div style="position:absolute;left:2074px;top:381px;width:438px;height:50px;border-radius:25px;background:#C2DEA5;"></div>
<div class="t" style="top:394.17px;font-size:26.5px;font-weight:400;color:#111;left:2141px;-webkit-text-stroke:0.3px #111;">Main Income</div>
<svg style="left:2048px;top:398.5px;" width="24" height="20" viewBox="0 0 24 20"><path d="M4.5 6 L12 13.5 L19.5 6" fill="none" stroke="#8A8A8A" stroke-width="2.6" stroke-linecap="round" stroke-linejoin="round"/></svg>
<div class="t" style="top:393.61px;font-size:30px;font-weight:400;color:#111;left:2094px;">$</div>
<div style="position:absolute;left:2140px;top:437px;width:372px;height:2px;background:#E3E3E5;"></div>
<div style="position:absolute;left:2074px;top:513px;width:438px;height:50px;border-radius:25px;background:#C2DEA5;"></div>
<div class="t" style="top:526.17px;font-size:26.5px;font-weight:400;color:#111;left:2141px;-webkit-text-stroke:0.3px #111;">Extra Income</div>
<svg style="left:2048px;top:530.5px;" width="24" height="20" viewBox="0 0 24 20"><path d="M4.5 6 L12 13.5 L19.5 6" fill="none" stroke="#8A8A8A" stroke-width="2.6" stroke-linecap="round" stroke-linejoin="round"/></svg>
<svg style="left:2090px;top:520px;" width="30" height="36" viewBox="0 0 30 36"><rect x="2" y="10.5" width="24.4" height="7.6" rx="1.6" fill="#000"/><rect x="3.8" y="19.4" width="20.8" height="11.8" rx="1.6" fill="#000"/>
<path d="M14.2 10.5 Q10.5 3.6 7.6 5.2 Q5.3 7.6 9.8 10.5 M14.2 10.5 Q17.9 3.6 20.8 5.2 Q23.1 7.6 18.6 10.5" fill="none" stroke="#000" stroke-width="2.2"/>
<path d="M14.2 10 V32" stroke="#C2DEA5" stroke-width="2"/></svg>
<div style="position:absolute;left:2140px;top:569px;width:372px;height:2px;background:#E3E3E5;"></div>
<div class="t" style="top:459.57px;font-size:26.5px;font-weight:400;color:#111;left:2166.7px;">Salary/Wages</div>
<svg style="left:2467px;top:457.5px;" width="36" height="32" viewBox="0 0 36 32"><path d="M4.5 17.5 L13 27.5 L31 2.5" fill="none" stroke="#000" stroke-width="2.6" stroke-linecap="round" stroke-linejoin="round"/></svg>
<div class="t" style="top:591.77px;font-size:26.5px;font-weight:400;color:#111;left:2166.7px;">Other Deposits</div>
<svg style="left:2467px;top:589.7px;" width="36" height="32" viewBox="0 0 36 32"><path d="M4.5 17.5 L13 27.5 L31 2.5" fill="none" stroke="#000" stroke-width="2.6" stroke-linecap="round" stroke-linejoin="round"/></svg>
<div class="t" style="top:657.77px;font-size:26.5px;font-weight:400;color:#111;left:2166.7px;">Side hustle</div>
<svg style="left:2467px;top:655.7px;" width="36" height="32" viewBox="0 0 36 32"><path d="M4.5 17.5 L13 27.5 L31 2.5" fill="none" stroke="#000" stroke-width="2.6" stroke-linecap="round" stroke-linejoin="round"/></svg>
<div class="t" style="top:723.77px;font-size:26.5px;font-weight:400;color:#111;left:2166.7px;">Capital gains</div>
<svg style="left:2467px;top:721.7px;" width="36" height="32" viewBox="0 0 36 32"><path d="M4.5 17.5 L13 27.5 L31 2.5" fill="none" stroke="#000" stroke-width="2.6" stroke-linecap="round" stroke-linejoin="round"/></svg>
<div class="t" style="top:789.77px;font-size:26.5px;font-weight:400;color:#111;left:2166.7px;">Reimbursements/Ref...</div>
<svg style="left:2467px;top:787.7px;" width="36" height="32" viewBox="0 0 36 32"><path d="M4.5 17.5 L13 27.5 L31 2.5" fill="none" stroke="#000" stroke-width="2.6" stroke-linecap="round" stroke-linejoin="round"/></svg>
<div class="t" style="top:855.77px;font-size:26.5px;font-weight:400;color:#111;left:2166.7px;">Dividends</div>
<svg style="left:2467px;top:853.7px;" width="36" height="32" viewBox="0 0 36 32"><path d="M4.5 17.5 L13 27.5 L31 2.5" fill="none" stroke="#000" stroke-width="2.6" stroke-linecap="round" stroke-linejoin="round"/></svg>
<div style="position:absolute;left:2166px;top:502.5px;width:346px;height:2px;background:#E3E3E5;"></div>
<div style="position:absolute;left:2166px;top:634.7px;width:346px;height:2px;background:#E3E3E5;"></div>
<div style="position:absolute;left:2166px;top:700.7px;width:346px;height:2px;background:#E3E3E5;"></div>
<div style="position:absolute;left:2166px;top:766.7px;width:346px;height:2px;background:#E3E3E5;"></div>
<div style="position:absolute;left:2166px;top:832.7px;width:346px;height:2px;background:#E3E3E5;"></div>
<svg style="left:2112px;top:456px;" width="36" height="34" viewBox="0 0 36 34"><rect x="3.5" y="9" width="28" height="20.5" rx="3" fill="none" stroke="#6CB33F" stroke-width="2.2"/>
<path d="M12 9 V5.5 Q12 3.5 14 3.5 H21 Q23 3.5 23 5.5 V9" fill="none" stroke="#6CB33F" stroke-width="2.2"/>
<path d="M3.5 16 H31.5" stroke="#6CB33F" stroke-width="2.2"/><rect x="15" y="14.5" width="5" height="4" rx="1" fill="#6CB33F"/></svg>
<svg style="left:2116px;top:596px;" width="30" height="20" viewBox="0 0 30 20"><path d="M5 5.5 H22.5 M5 14.5 H22.5" stroke="#6CB33F" stroke-width="2.6"/></svg>
<svg style="left:2112px;top:652px;" width="36" height="36" viewBox="0 0 36 36"><circle cx="17.8" cy="17.8" r="8.7" fill="none" stroke="#6CB33F" stroke-width="8.6"/>
<g fill="#fff"><rect x="9.7" y="9.7" width="3.2" height="3.2" transform="rotate(45 11.3 11.3)"/><rect x="22.7" y="9.7" width="3.2" height="3.2" transform="rotate(45 24.3 11.3)"/>
<rect x="9.7" y="22.7" width="3.2" height="3.2" transform="rotate(45 11.3 24.3)"/><rect x="22.7" y="22.7" width="3.2" height="3.2" transform="rotate(45 24.3 24.3)"/></g></svg>
<svg style="left:2116px;top:720px;" width="30" height="34" viewBox="0 0 30 34"><path d="M21.6 5.6 H8.2 L17.2 16 L8.2 26.3 H21.6" fill="none" stroke="#6CB33F" stroke-width="2" stroke-linecap="round" stroke-linejoin="round"/></svg>
<svg style="left:2110px;top:786px;" width="40" height="36" viewBox="0 0 40 36"><path d="M9.6 10.8 A11.7 11.7 0 1 1 11.3 22.6" fill="none" stroke="#6CB33F" stroke-width="2.1" stroke-linecap="round"/>
<path d="M5.3 13.2 L13.4 12.4 L9.3 18.9Z" fill="#6CB33F"/>
<text x="20.5" y="21.5" font-family="Liberation Sans" font-size="17" fill="#6CB33F" text-anchor="middle">$</text></svg>
<svg style="left:2110px;top:850px;" width="36" height="34" viewBox="0 0 36 34"><path d="M8.9 11.9 H15.9 M12.4 8.4 V15.4 M27.9 6.5 L12.4 28.9 M23.2 24.3 H31.8" fill="none" stroke="#6CB33F" stroke-width="2" stroke-linecap="round"/></svg>
<div style="position:absolute;left:2024px;top:940px;width:520px;height:2px;background:#CFD3D8;"></div>
<div style="position:absolute;left:2024px;top:963px;width:520px;height:2.5px;background:#C9CDD3;"></div>
<div class="t" style="top:1000.99px;font-size:26px;font-weight:700;color:#111;left:2025px;">Budget Goals</div>
<svg style="left:2212px;top:999px;" width="32" height="32" viewBox="0 0 32 32"><circle cx="16" cy="16" r="12.6" fill="none" stroke="#707070" stroke-width="1.6"/>
<circle cx="16" cy="10.2" r="1.5" fill="#707070"/><path d="M13.6 14h3.1v8.5M13.4 22.6h5.4" fill="none" stroke="#707070" stroke-width="1.6"/></svg>
<svg style="left:2333.5px;top:981.6px;" width="48" height="48" viewBox="0 0 48 48"><circle cx="24" cy="24" r="24" fill="rgba(80,90,110,0.09)"/><circle cx="24" cy="24" r="17.5" fill="none" stroke="#000" stroke-width="2.6"/><path d="M24 14.5 V30 M17.5 23.5 L24 30 L30.5 23.5 M16.5 34 H31.5" fill="none" stroke="#000" stroke-width="2.4" stroke-linecap="round" stroke-linejoin="round"/></svg>
<svg style="left:2387.7px;top:981.6px;" width="48" height="48" viewBox="0 0 48 48"><circle cx="24" cy="24" r="24" fill="rgba(80,90,110,0.09)"/><circle cx="24" cy="24" r="17.5" fill="none" stroke="#8A8F99" stroke-width="2.6"/><path d="M24 34 V15 M17 22 L24 15 L31 22" fill="none" stroke="#8A8F99" stroke-width="2.2" stroke-linecap="round" stroke-linejoin="round"/></svg>
<svg style="left:2442px;top:981.6px;" width="48" height="48" viewBox="0 0 48 48"><circle cx="24" cy="24" r="24" fill="rgba(80,90,110,0.09)"/><circle cx="24" cy="24" r="17.5" fill="none" stroke="#8A8F99" stroke-width="2.6"/><path d="M24 14 V33 M17 26 L24 33 L31 26" fill="none" stroke="#8A8F99" stroke-width="2.2" stroke-linecap="round" stroke-linejoin="round"/></svg>
<svg style="left:2496px;top:981.6px;" width="48" height="48" viewBox="0 0 48 48"><circle cx="24" cy="24" r="24" fill="rgba(80,90,110,0.09)"/><circle cx="24" cy="24" r="17.5" fill="none" stroke="#8A8F99" stroke-width="2.6"/><path d="M24 35 V19 M17.5 25.5 L24 19 L30.5 25.5 M16.5 14.5 H31.5" fill="none" stroke="#8A8F99" stroke-width="2.2" stroke-linecap="round" stroke-linejoin="round"/></svg>
<div style="position:absolute;left:2024px;top:1046px;width:520px;height:900px;border-radius:28px;background:#fff;overflow:hidden;">
<div style="position:absolute;left:50px;top:28px;width:438px;height:49.5px;border-radius:25px;background:#C2DEA5;"></div>
<div class="t" style="top:40.97px;font-size:26.5px;font-weight:700;color:#000;left:60.69999999999982px;">Needs</div>
<svg style="left:24px;top:42.5px;" width="24" height="20" viewBox="0 0 24 20"><path d="M4.5 6 L12 13.5 L19.5 6" fill="none" stroke="#8A8A8A" stroke-width="2.6" stroke-linecap="round" stroke-linejoin="round"/></svg>
<div style="position:absolute;left:60px;top:84px;width:428px;height:2px;background:#E3E3E5;"></div>
<div class="t" style="top:106.57px;font-size:26.5px;font-weight:400;color:#111;left:142.69999999999982px;">Auto loan</div>
<svg style="left:443px;top:104.5px;" width="36" height="32" viewBox="0 0 36 32"><path d="M4.5 17.5 L13 27.5 L31 2.5" fill="none" stroke="#000" stroke-width="2.6" stroke-linecap="round" stroke-linejoin="round"/></svg>
<div style="position:absolute;left:142px;top:149.70000000000005px;width:346px;height:2px;background:#E3E3E5;"></div>
<div class="t" style="top:172.47px;font-size:26.5px;font-weight:400;color:#111;left:142.69999999999982px;">Auto/Bike</div>
<svg style="left:443px;top:170.4000000000001px;" width="36" height="32" viewBox="0 0 36 32"><path d="M4.5 17.5 L13 27.5 L31 2.5" fill="none" stroke="#000" stroke-width="2.6" stroke-linecap="round" stroke-linejoin="round"/></svg>
<div style="position:absolute;left:142px;top:215.60000000000014px;width:346px;height:2px;background:#E3E3E5;"></div>
<div class="t" style="top:238.37px;font-size:26.5px;font-weight:400;color:#111;left:142.69999999999982px;">Doctor's visit</div>
<svg style="left:443px;top:236.29999999999995px;" width="36" height="32" viewBox="0 0 36 32"><path d="M4.5 17.5 L13 27.5 L31 2.5" fill="none" stroke="#000" stroke-width="2.6" stroke-linecap="round" stroke-linejoin="round"/></svg>
<div style="position:absolute;left:142px;top:281.5px;width:346px;height:2px;background:#E3E3E5;"></div>
<div class="t" style="top:304.27px;font-size:26.5px;font-weight:400;color:#111;left:142.69999999999982px;">Electricity</div>
<svg style="left:443px;top:302.20000000000005px;" width="36" height="32" viewBox="0 0 36 32"><path d="M4.5 17.5 L13 27.5 L31 2.5" fill="none" stroke="#000" stroke-width="2.6" stroke-linecap="round" stroke-linejoin="round"/></svg>
<div style="position:absolute;left:142px;top:347.4000000000001px;width:346px;height:2px;background:#E3E3E5;"></div>
<div class="t" style="top:370.17px;font-size:26.5px;font-weight:400;color:#111;left:142.69999999999982px;">Food</div>
<svg style="left:443px;top:368.0999999999999px;" width="36" height="32" viewBox="0 0 36 32"><path d="M4.5 17.5 L13 27.5 L31 2.5" fill="none" stroke="#000" stroke-width="2.6" stroke-linecap="round" stroke-linejoin="round"/></svg>
<div style="position:absolute;left:142px;top:413.3000000000002px;width:346px;height:2px;background:#E3E3E5;"></div>
<div class="t" style="top:436.07px;font-size:26.5px;font-weight:400;color:#111;left:142.69999999999982px;">Fuel</div>
<svg style="left:443px;top:434.0px;" width="36" height="32" viewBox="0 0 36 32"><path d="M4.5 17.5 L13 27.5 L31 2.5" fill="none" stroke="#000" stroke-width="2.6" stroke-linecap="round" stroke-linejoin="round"/></svg>
<div style="position:absolute;left:142px;top:479.20000000000005px;width:346px;height:2px;background:#E3E3E5;"></div>
<div class="t" style="top:501.97px;font-size:26.5px;font-weight:400;color:#111;left:142.69999999999982px;">Garbage</div>
<svg style="left:443px;top:499.9000000000001px;" width="36" height="32" viewBox="0 0 36 32"><path d="M4.5 17.5 L13 27.5 L31 2.5" fill="none" stroke="#000" stroke-width="2.6" stroke-linecap="round" stroke-linejoin="round"/></svg>
<div style="position:absolute;left:142px;top:545.1000000000001px;width:346px;height:2px;background:#E3E3E5;"></div>
<div class="t" style="top:567.87px;font-size:26.5px;font-weight:400;color:#111;left:142.69999999999982px;">Gas/Oil</div>
<svg style="left:443px;top:565.8000000000002px;" width="36" height="32" viewBox="0 0 36 32"><path d="M4.5 17.5 L13 27.5 L31 2.5" fill="none" stroke="#000" stroke-width="2.6" stroke-linecap="round" stroke-linejoin="round"/></svg>
<div style="position:absolute;left:142px;top:611.0px;width:346px;height:2px;background:#E3E3E5;"></div>
<div class="t" style="top:633.77px;font-size:26.5px;font-weight:400;color:#111;left:142.69999999999982px;">Groceries</div>
<svg style="left:443px;top:631.7px;" width="36" height="32" viewBox="0 0 36 32"><path d="M4.5 17.5 L13 27.5 L31 2.5" fill="none" stroke="#000" stroke-width="2.6" stroke-linecap="round" stroke-linejoin="round"/></svg>
<div style="position:absolute;left:142px;top:676.9000000000001px;width:346px;height:2px;background:#E3E3E5;"></div>
<div class="t" style="top:699.67px;font-size:26.5px;font-weight:400;color:#111;left:142.69999999999982px;">HOA Fees</div>
<svg style="left:443px;top:697.5999999999999px;" width="36" height="32" viewBox="0 0 36 32"><path d="M4.5 17.5 L13 27.5 L31 2.5" fill="none" stroke="#000" stroke-width="2.6" stroke-linecap="round" stroke-linejoin="round"/></svg>
<div style="position:absolute;left:142px;top:742.8000000000002px;width:346px;height:2px;background:#E3E3E5;"></div>
<div class="t" style="top:765.57px;font-size:26.5px;font-weight:400;color:#111;left:142.69999999999982px;">Internet</div>
<svg style="left:443px;top:763.5px;" width="36" height="32" viewBox="0 0 36 32"><path d="M4.5 17.5 L13 27.5 L31 2.5" fill="none" stroke="#000" stroke-width="2.6" stroke-linecap="round" stroke-linejoin="round"/></svg>
<div style="position:absolute;left:142px;top:808.7px;width:346px;height:2px;background:#E3E3E5;"></div>
<div class="t" style="top:831.47px;font-size:26.5px;font-weight:400;color:#111;left:142.69999999999982px;">Life</div>
<svg style="left:443px;top:829.4000000000001px;" width="36" height="32" viewBox="0 0 36 32"><path d="M4.5 17.5 L13 27.5 L31 2.5" fill="none" stroke="#000" stroke-width="2.6" stroke-linecap="round" stroke-linejoin="round"/></svg>
<div style="position:absolute;left:142px;top:874.6000000000001px;width:346px;height:2px;background:#E3E3E5;"></div>
<div class="t" style="top:897.37px;font-size:26.5px;font-weight:400;color:#111;left:142.69999999999982px;">Medical</div>
<svg style="left:443px;top:895.3000000000002px;" width="36" height="32" viewBox="0 0 36 32"><path d="M4.5 17.5 L13 27.5 L31 2.5" fill="none" stroke="#000" stroke-width="2.6" stroke-linecap="round" stroke-linejoin="round"/></svg>
<svg style="left:86px;top:101.0px;" width="40" height="40" viewBox="0 0 40 40"><path d="M7.3 18.5 L9.6 10.2 Q10.6 7 14 7 H26 Q29.4 7 30.4 10.2 L32.7 18.5 Q34 19.6 34 22 V26.5 H6 V22 Q6 19.6 7.3 18.5Z" fill="none" stroke="#F9B264" stroke-width="2.3"/>
<path d="M10.8 16 L12.2 10.8 Q12.6 9.6 14 9.6 H26 Q27.4 9.6 27.8 10.8 L29.2 16Z" fill="#F9B264"/><rect x="6" y="25" width="4.6" height="4.6" rx="1.4" fill="#F9B264"/><rect x="29.4" y="25" width="4.6" height="4.6" rx="1.4" fill="#F9B264"/>
<circle cx="11.2" cy="21.3" r="1.9" fill="#F9B264"/><circle cx="28.8" cy="21.3" r="1.9" fill="#F9B264"/><path d="M16.5 21.5H23.5" stroke="#F9B264" stroke-width="2" stroke-linecap="round"/></svg>
<svg style="left:86px;top:166.9000000000001px;" width="40" height="40" viewBox="0 0 40 40"><path d="M7.3 18.5 L9.6 10.2 Q10.6 7 14 7 H26 Q29.4 7 30.4 10.2 L32.7 18.5 Q34 19.6 34 22 V26.5 H6 V22 Q6 19.6 7.3 18.5Z" fill="none" stroke="#F9B264" stroke-width="2.3"/>
<path d="M10.8 16 L12.2 10.8 Q12.6 9.6 14 9.6 H26 Q27.4 9.6 27.8 10.8 L29.2 16Z" fill="#F9B264"/><rect x="6" y="25" width="4.6" height="4.6" rx="1.4" fill="#F9B264"/><rect x="29.4" y="25" width="4.6" height="4.6" rx="1.4" fill="#F9B264"/>
<circle cx="11.2" cy="21.3" r="1.9" fill="#F9B264"/><circle cx="28.8" cy="21.3" r="1.9" fill="#F9B264"/><path d="M16.5 21.5H23.5" stroke="#F9B264" stroke-width="2" stroke-linecap="round"/></svg>
<svg style="left:86px;top:232.79999999999995px;" width="40" height="40" viewBox="0 0 40 40"><path d="M5.5 5.5 Q3.5 5.5 3.5 8 V11 Q3.5 19 10.5 19 Q17.5 19 17.5 11 V8 Q17.5 5.5 15.5 5.5" fill="none" stroke="#FDE29A" stroke-width="2.2" stroke-linecap="round"/>
<path d="M10.5 19 V24 Q10.5 30.5 16.5 30.5 Q22.5 30.5 22.5 24 V20.5 Q22.5 14.5 27.5 14.5 Q32.5 14.5 33 19 V22.3" fill="none" stroke="#FDE29A" stroke-width="2.2"/>
<circle cx="33.8" cy="25.8" r="3.3" fill="none" stroke="#FDE29A" stroke-width="2.2"/></svg>
<svg style="left:86px;top:298.70000000000005px;" width="40" height="40" viewBox="0 0 40 40"><path d="M15.3 25.5 V22.5 Q15.3 20 13.8 17.4 Q12.2 14.6 12.2 11.8 Q12.2 4.2 20.4 4.2 Q28.6 4.2 28.6 11.8 Q28.6 14.6 27 17.4 Q25.5 20 25.5 22.5 V25.5 Z" fill="none" stroke="#F9B264" stroke-width="2.2" stroke-linejoin="round"/>
<path d="M15.5 28.8 H25.3 M16.8 32 H24" stroke="#F9B264" stroke-width="2" stroke-linecap="round"/></svg>
<svg style="left:86px;top:364.5999999999999px;" width="40" height="40" viewBox="0 0 40 40"><path d="M6 32.5 Q4.3 31 6.3 27.3 L18.8 12.8 Q22.5 9.3 25.8 12.6 Q29 15.9 25.6 19.4 L11 31.2 Q7.6 34 6 32.5Z" fill="#FDE29A"/>
<path d="M23.5 11.5 Q22.5 6.5 25.3 4.3 Q27.3 7.8 26 11 M26.5 12.8 Q28.5 7.5 32.5 7 Q32.2 10.5 28 14 M27.5 15.2 Q31.5 13.5 34 15.5 Q31.5 17.8 27.5 17" fill="#FDE29A" stroke="#FDE29A" stroke-width="1.6"/>
<path d="M11.5 24.5 L14.5 27 M16 19.3 L19 21.8" stroke="#fff" stroke-width="1.5" stroke-linecap="round"/></svg>
<svg style="left:86px;top:430.5px;" width="40" height="40" viewBox="0 0 40 40"><path d="M9.8 32.8 V8.5 Q9.8 5.6 12.7 5.6 H23.7 Q26.6 5.6 26.6 8.5 V32.8 M7 32.8 H28.5" fill="none" stroke="#F9B264" stroke-width="2.2"/>
<rect x="12.5" y="8.6" width="11.3" height="7.4" rx="1" fill="#F9B264"/>
<path d="M26.6 19.5 H29 Q30.3 19.5 30.3 21 V25.8 Q30.3 28.3 32.3 28.3 Q34.3 28.3 34.3 25.8 V14.5 Q34.3 12 31 8.5" fill="none" stroke="#F9B264" stroke-width="2"/></svg>
<svg style="left:86px;top:496.4000000000001px;" width="40" height="40" viewBox="0 0 40 40"><path d="M8.2 11.3 H32.3" stroke="#F9B264" stroke-width="2.4" stroke-linecap="round"/><path d="M15 11 V7.5 Q15 6 16.5 6 H24 Q25.5 6 25.5 7.5 V11" fill="none" stroke="#F9B264" stroke-width="2.2"/>
<path d="M10.6 13.6 H29.4 L28.2 30.5 Q28 33.2 25.3 33.2 H14.7 Q12 33.2 11.8 30.5Z" fill="#F9B264"/><path d="M15.8 16.5V30M20 16.5V30M24.2 16.5V30" stroke="#fff" stroke-width="1.6" stroke-linecap="round"/></svg>
<svg style="left:86px;top:562.3000000000002px;" width="40" height="40" viewBox="0 0 40 40"><circle cx="20" cy="18.2" r="12" fill="none" stroke="#F9B264" stroke-width="2.3"/><path d="M19 19.5 L24.5 12" stroke="#F9B264" stroke-width="3" stroke-linecap="round"/>
<g fill="#F9B264"><circle cx="20" cy="10.3" r="1.2"/><circle cx="14.3" cy="12.7" r="1.2"/><circle cx="12" cy="18.3" r="1.2"/><circle cx="28" cy="18.3" r="1.2"/><circle cx="14.3" cy="24" r="1.2"/><circle cx="25.7" cy="24" r="1.2"/></g></svg>
<svg style="left:86px;top:628.2px;" width="40" height="40" viewBox="0 0 40 40"><path d="M4.8 7 H9.6 L12.6 24.4 H30.6 L34.2 10 H10.3" fill="none" stroke="#FDE29A" stroke-width="2.2" stroke-linejoin="round" stroke-linecap="round"/>
<circle cx="16" cy="28.8" r="2.2" fill="#FDE29A"/><circle cx="28.2" cy="28.8" r="2.2" fill="#FDE29A"/></svg>
<svg style="left:86px;top:694.0999999999999px;" width="40" height="40" viewBox="0 0 40 40"><circle cx="11" cy="12.9" r="4.6" fill="#F9B264"/><circle cx="26.1" cy="11.9" r="5.3" fill="#F9B264"/>
<path d="M2 29 Q2.5 20 11 20 Q16.5 20 18.5 22.8 Q15.3 25.2 14.6 29Z" fill="#F9B264"/><path d="M15.5 29 Q16 20.3 26.1 20.3 Q36.5 20.3 37 29Z" fill="#F9B264"/></svg>
<svg style="left:86px;top:760.0px;" width="40" height="40" viewBox="0 0 40 40"><circle cx="20" cy="18.3" r="12" fill="none" stroke="#F9B264" stroke-width="2.2"/>
<path d="M8.3 14.5 Q20 17.5 31.7 14.5 M8.3 22 Q20 25 31.7 22 M20 6.3 Q13.5 18.3 20 30.3 M20.5 6.3 Q29 13 22 30.3" fill="none" stroke="#F9B264" stroke-width="1.8"/></svg>
<svg style="left:86px;top:825.9000000000001px;" width="40" height="40" viewBox="0 0 40 40"><path d="M14.5 8.3 Q14.5 5.8 17 5.8 H23 Q25.5 5.8 25.5 8.3 V13.4 H30.5 Q33 13.4 33 15.9 V21.9 Q33 24.4 30.5 24.4 H25.5 V29.5 Q25.5 32 23 32 H17 Q14.5 32 14.5 29.5 V24.4 H9.5 Q7 24.4 7 21.9 V15.9 Q7 13.4 9.5 13.4 H14.5Z" fill="#F9B264"/></svg>
<svg style="left:86px;top:891.8000000000002px;" width="40" height="40" viewBox="0 0 40 40"><rect x="13" y="5" width="15" height="20" rx="3" fill="#F9B264"/></svg>
</div>
</body></html>
